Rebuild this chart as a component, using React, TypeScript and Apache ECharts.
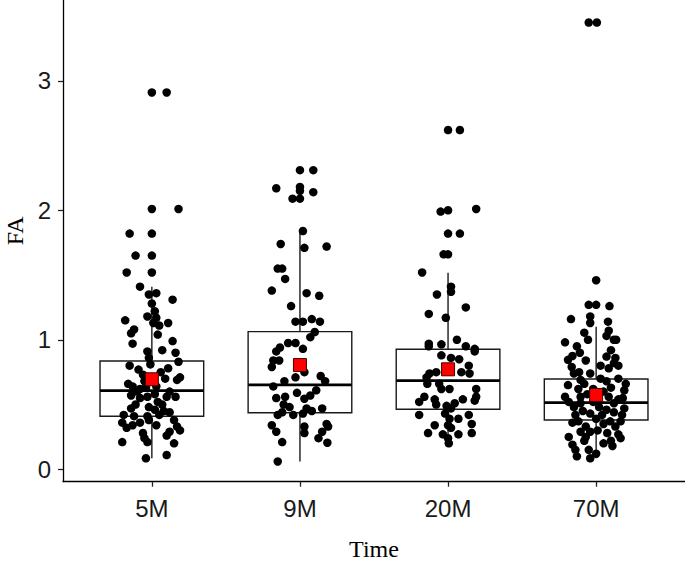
import React, { useEffect, useRef } from "react";
import * as echarts from "echarts";

const categories = ["5M", "9M", "20M", "70M"];
const yTickValues = [0, 1, 2, 3];
const xTickValues = [1, 2, 3, 4];

// Box statistics
const whiskerLow = [0.085, 0.06, 0.2, 0.085];
const q1 = [0.41, 0.437, 0.463, 0.381];
const median = [0.607, 0.651, 0.684, 0.514];
const q3 = [0.836, 1.063, 0.927, 0.697];
const whiskerHigh = [1.41, 1.84, 1.518, 1.1];
const means = [0.695, 0.805, 0.772, 0.574];

// Jittered points: [horizontal jitter (category units), FA value]
const pts5M: [number, number][] = [
  [0.0, 2.91], [0.1, 2.91], [0.0, 2.01], [0.18, 2.01], [-0.15, 1.82], [0.0, 1.82], [-0.11, 1.65], [0.0, 1.65],
  [-0.17, 1.52], [0.0, 1.52], [-0.08, 1.41], [-0.02, 1.35], [0.03, 1.36], [0.14, 1.31], [0.0, 1.28], [0.02, 1.22],
  [-0.03, 1.18], [0.03, 1.17], [-0.18, 1.15], [0.11, 1.13], [0.01, 1.13], [0.05, 1.11], [-0.12, 1.08], [-0.14, 1.05],
  [0.04, 1.04], [0.14, 0.99], [-0.13, 0.97], [0.07, 0.92], [-0.03, 0.91], [0.16, 0.9], [-0.02, 0.86], [0.18, 0.83],
  [-0.15, 0.8], [-0.01, 0.81], [-0.09, 0.77], [0.11, 0.78], [-0.06, 0.73], [0.19, 0.71], [0.17, 0.69], [0.09, 0.7],
  [-0.16, 0.66], [-0.13, 0.64], [-0.08, 0.62], [-0.04, 0.63], [0.03, 0.64], [0.12, 0.6], [0.16, 0.56], [-0.14, 0.57],
  [-0.08, 0.55], [-0.03, 0.56], [0.04, 0.52], [0.1, 0.56], [0.07, 0.5], [-0.02, 0.48], [0.02, 0.46], [-0.14, 0.47],
  [0.12, 0.44], [-0.19, 0.42], [-0.12, 0.41], [-0.03, 0.41], [0.05, 0.42], [0.15, 0.38], [-0.2, 0.36], [-0.13, 0.34],
  [-0.08, 0.36], [-0.02, 0.38], [0.17, 0.33], [-0.17, 0.32], [0.03, 0.34], [0.19, 0.3], [-0.06, 0.28], [0.12, 0.29],
  [0.1, 0.26], [-0.05, 0.24], [-0.2, 0.21], [-0.03, 0.21], [0.15, 0.2], [0.1, 0.11], [-0.04, 0.085], [-0.1, 0.6],
  [0.06, 0.75], [-0.05, 0.68], [0.02, 0.58], [-0.11, 0.5], [0.08, 0.45],
];

const pts9M: [number, number][] = [
  [0.0, 2.31], [0.09, 2.31], [-0.16, 2.17], [0.0, 2.18], [0.0, 2.15], [0.09, 2.14], [-0.05, 2.09], [0.0, 2.09],
  [0.02, 1.84], [-0.13, 1.74], [0.03, 1.71], [0.18, 1.72], [-0.15, 1.55], [-0.12, 1.55], [-0.1, 1.47], [-0.19, 1.38],
  [0.045, 1.36], [0.13, 1.34], [-0.06, 1.26], [-0.03, 1.14], [0.02, 1.14], [0.08, 1.16], [0.135, 1.14], [0.1, 1.06],
  [0.07, 1.02], [-0.08, 0.975], [-0.03, 0.975], [-0.135, 0.94], [-0.16, 0.91], [0.02, 0.93], [-0.18, 0.84], [-0.19, 0.79],
  [-0.14, 0.84], [0.03, 0.75], [-0.03, 0.71], [-0.105, 0.68], [-0.18, 0.64], [0.14, 0.72], [0.17, 0.68], [0.11, 0.61],
  [0.07, 0.57], [-0.16, 0.55], [-0.1, 0.56], [-0.02, 0.59], [0.03, 0.545], [-0.11, 0.5], [-0.07, 0.48], [-0.12, 0.44],
  [-0.045, 0.42], [0.045, 0.47], [0.08, 0.45], [0.15, 0.47], [0.02, 0.43], [-0.15, 0.42], [-0.19, 0.34], [-0.16, 0.29],
  [0.03, 0.33], [0.03, 0.28], [0.18, 0.35], [0.19, 0.33], [0.15, 0.29], [0.125, 0.24], [0.185, 0.205], [-0.12, 0.21],
  [-0.15, 0.06],
];

const pts20M: [number, number][] = [
  [0.0, 2.62], [0.08, 2.62], [-0.05, 1.99], [0.0, 2.0], [0.19, 2.01], [0.0, 1.82], [0.08, 1.82], [-0.03, 1.66],
  [0.0, 1.66], [-0.175, 1.52], [0.02, 1.41], [0.02, 1.37], [-0.075, 1.35], [0.12, 1.25], [-0.13, 1.2], [-0.015, 1.17],
  [0.06, 1.0], [-0.13, 0.97], [-0.13, 0.95], [-0.045, 0.965], [0.12, 0.95], [0.18, 0.93], [0.18, 0.91], [-0.045, 0.88],
  [0.02, 0.86], [0.075, 0.85], [-0.08, 0.75], [-0.125, 0.74], [-0.145, 0.71], [-0.14, 0.66], [0.09, 0.75], [0.145, 0.74],
  [0.14, 0.8], [-0.06, 0.66], [-0.045, 0.62], [0.01, 0.62], [0.19, 0.62], [0.19, 0.56], [0.1, 0.54], [-0.195, 0.52],
  [-0.16, 0.56], [-0.09, 0.54], [-0.08, 0.5], [-0.01, 0.49], [0.02, 0.47], [0.045, 0.51], [0.18, 0.53], [-0.195, 0.42],
  [-0.02, 0.43], [0.01, 0.39], [0.07, 0.39], [0.14, 0.42], [-0.09, 0.34], [0.0, 0.34], [0.02, 0.32], [0.16, 0.35],
  [0.16, 0.28], [-0.135, 0.28], [-0.035, 0.27], [0.0, 0.24], [0.07, 0.27], [0.005, 0.2],
];

const pts70M: [number, number][] = [
  [-0.05, 3.45], [0.005, 3.45], [0.0, 1.46], [-0.05, 1.27], [0.0, 1.27], [0.09, 1.26], [-0.17, 1.16], [-0.04, 1.18],
  [-0.04, 1.13], [0.08, 1.14], [-0.08, 1.055], [-0.055, 1.0], [0.085, 1.07], [0.135, 1.0], [0.12, 1.0], [0.07, 1.03],
  [-0.21, 0.98], [-0.11, 0.9], [-0.16, 0.875], [-0.19, 0.845], [0.1, 0.92], [0.13, 0.86], [0.12, 0.82], [0.085, 0.78],
  [-0.07, 0.84], [-0.165, 0.79], [-0.15, 0.74], [-0.115, 0.75], [-0.04, 0.74], [0.15, 0.7], [0.2, 0.66], [0.19, 0.61],
  [-0.105, 0.69], [-0.08, 0.66], [0.03, 0.7], [0.07, 0.68], [-0.21, 0.56], [-0.185, 0.52], [-0.15, 0.48], [-0.105, 0.56],
  [-0.105, 0.51], [0.085, 0.56], [0.12, 0.51], [0.15, 0.54], [0.19, 0.47], [0.175, 0.42], [0.165, 0.37], [-0.14, 0.42],
  [-0.12, 0.37], [-0.16, 0.36], [-0.04, 0.43], [0.0, 0.39], [0.04, 0.42], [-0.07, 0.33], [-0.04, 0.29], [0.01, 0.3],
  [0.075, 0.28], [-0.105, 0.29], [-0.07, 0.25], [0.15, 0.27], [0.165, 0.24], [0.11, 0.18], [-0.185, 0.25], [-0.16, 0.19],
  [-0.14, 0.15], [-0.13, 0.1], [-0.04, 0.085], [0.0, 0.12], [-0.05, 0.15], [0.05, 0.35], [0.095, 0.37], [0.13, 0.33],
  [-0.02, 0.62], [0.05, 0.6], [0.1, 0.63], [-0.12, 0.62], [-0.06, 0.58], [0.02, 0.48], [0.07, 0.46], [-0.09, 0.45],
  [0.12, 0.44], [-0.02, 0.52], [0.15, 0.8], [-0.13, 0.95], [0.03, 0.8], [0.07, 0.87], [-0.19, 0.65], [0.18, 0.55],
  [-0.08, 0.22], [0.05, 0.2], [0.1, 0.22],
];

const groupPoints = [pts5M, pts9M, pts20M, pts70M];
const BOX_WIDTH = 0.7;
const SANS = "'Liberation Sans', Arial, sans-serif";
const SERIF = "'Liberation Serif', 'Times New Roman', serif";

export default function App() {
  const ref = useRef<HTMLDivElement>(null);

  useEffect(() => {
    if (!ref.current) return;
    const chart = echarts.init(ref.current, null, { renderer: "svg" });

    const scatterData = groupPoints.flatMap((g, gi) => g.map(([dx, v]) => [gi + 1 + dx, v]));
    const boxData = categories.map((_, i) => [i + 1, whiskerLow[i], q1[i], median[i], q3[i], whiskerHigh[i]]);
    const meanData = means.map((m, i) => [i + 1, m]);

    chart.setOption({
      animation: false,
      backgroundColor: "#fff",
      grid: { left: 63, right: 0, top: 0, bottom: 80.3, containLabel: false, outerBoundsMode: "none" },
      xAxis: {
        type: "value",
        min: 0.4,
        max: 4.6,
        splitLine: { show: false },
        axisLine: { show: true, onZero: false, lineStyle: { color: "#000", width: 1.3 } },
        axisTick: { show: true, customValues: xTickValues, length: 5, lineStyle: { color: "#222", width: 1.3 } },
        axisLabel: {
          customValues: xTickValues,
          formatter: (v: number) => categories[Math.round(v) - 1] ?? "",
          fontSize: 24,
          color: "#1a1a1a",
          fontFamily: SANS,
          margin: 15,
        },
        name: "Time",
        nameLocation: "middle",
        nameGap: 55,
        nameTextStyle: { fontFamily: SERIF, fontSize: 24, color: "#000" },
      },
      yAxis: {
        type: "value",
        min: -0.096,
        max: 3.624,
        splitLine: { show: false },
        axisLine: { show: true, onZero: false, lineStyle: { color: "#000", width: 1.3 } },
        axisTick: { show: true, customValues: yTickValues, length: 5, lineStyle: { color: "#222", width: 1.3 } },
        axisLabel: {
          customValues: yTickValues,
          fontSize: 24,
          color: "#1a1a1a",
          fontFamily: SANS,
          margin: 12,
        },
        name: "FA",
        nameLocation: "middle",
        nameRotate: 90,
        nameGap: 33,
        nameTextStyle: { fontFamily: SERIF, fontSize: 24, color: "#000", padding: [0, 0, 0, 20] },
      },
      series: [
        {
          type: "custom",
          data: boxData,
          encode: { x: 0, y: [1, 2, 3, 4, 5] },
          z: 1,
          renderItem: (params: any, api: any) => {
            const x = api.value(0);
            const lo = api.coord([x, api.value(1)]);
            const b1 = api.coord([x, api.value(2)]);
            const md = api.coord([x, api.value(3)]);
            const b3 = api.coord([x, api.value(4)]);
            const hi = api.coord([x, api.value(5)]);
            const half = api.size([BOX_WIDTH, 0])[0] / 2;
            const st = { stroke: "#1a1a1a", lineWidth: 1.4, fill: "none" };
            return {
              type: "group",
              children: [
                { type: "line", shape: { x1: lo[0], y1: lo[1], x2: b1[0], y2: b1[1] }, style: st },
                { type: "line", shape: { x1: b3[0], y1: b3[1], x2: hi[0], y2: hi[1] }, style: st },
                {
                  type: "rect",
                  shape: { x: b3[0] - half, y: b3[1], width: half * 2, height: b1[1] - b3[1] },
                  style: st,
                },
                {
                  type: "line",
                  shape: { x1: md[0] - half, y1: md[1], x2: md[0] + half, y2: md[1] },
                  style: { stroke: "#000", lineWidth: 2.8 },
                },
              ],
            };
          },
        },
        {
          type: "scatter",
          data: scatterData,
          symbol: "circle",
          symbolSize: 8.5,
          itemStyle: { color: "#000", opacity: 1 },
          z: 2,
        },
        {
          type: "scatter",
          data: meanData,
          symbol: "rect",
          symbolSize: 13,
          itemStyle: { color: "#ff0000", borderColor: "#400", borderWidth: 1, opacity: 1 },
          z: 3,
        },
      ],
    });

    return () => chart.dispose();
  }, []);

  return <div ref={ref} style={{ position: "absolute", left: 0, top: 0, width: 685, height: 562 }} />;
}
